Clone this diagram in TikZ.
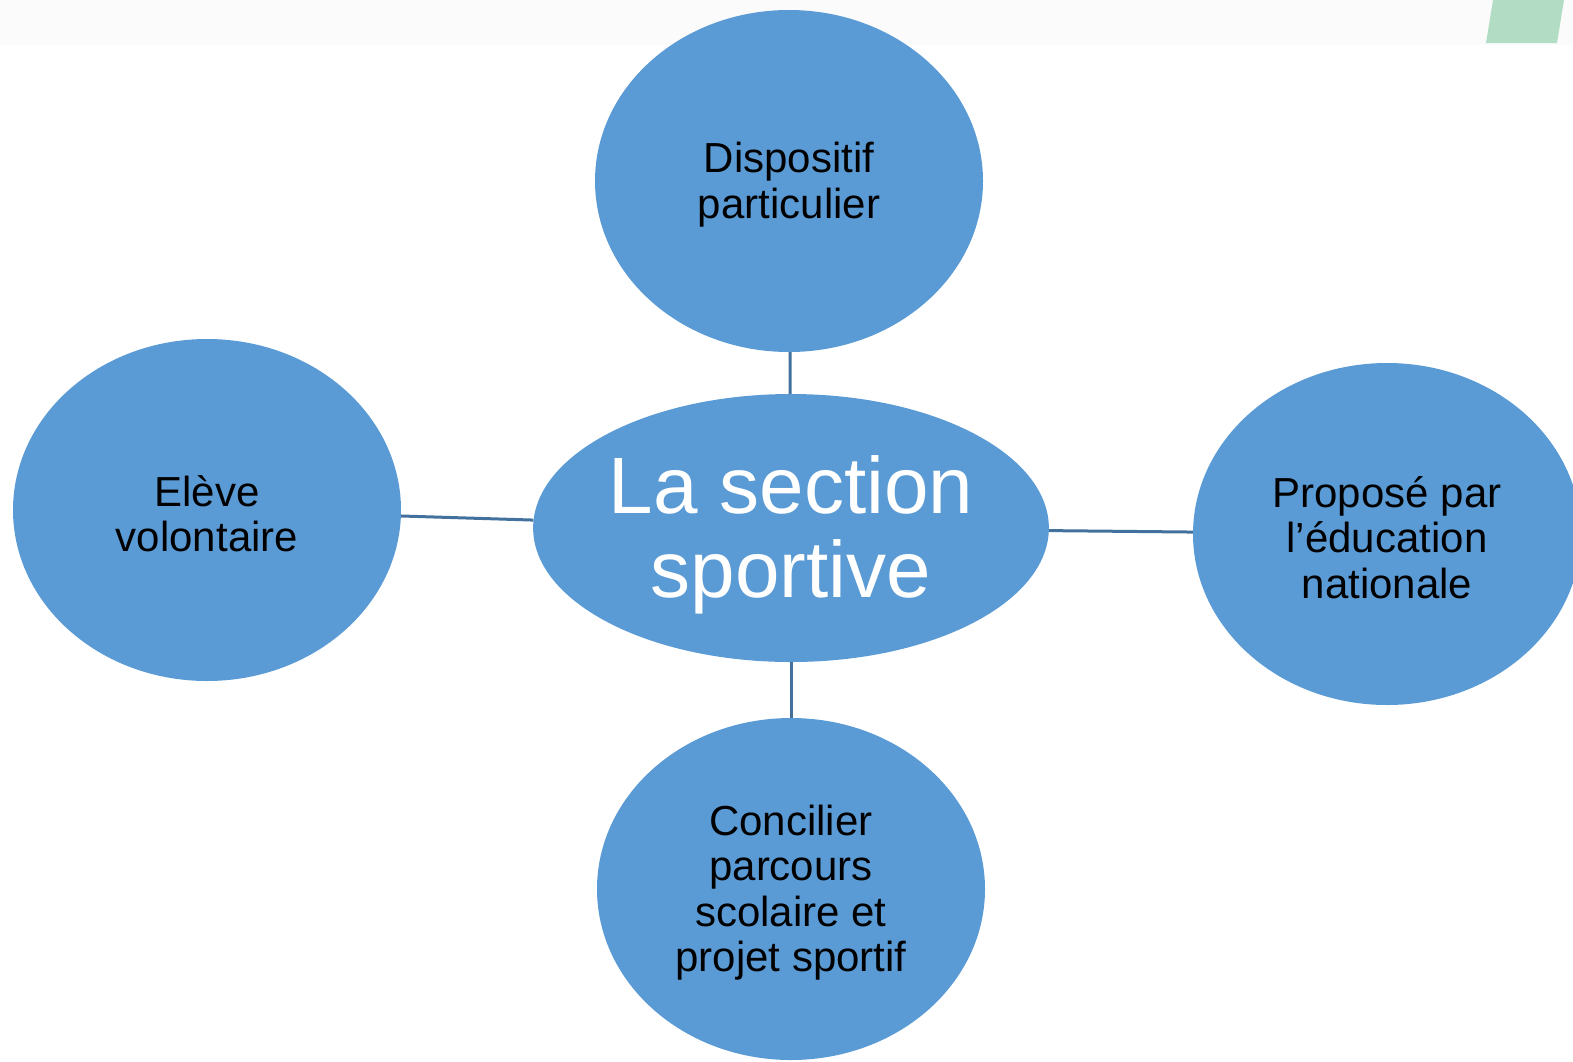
\documentclass[tikz,border=0pt]{standalone}
\usepackage{fontspec}
\setmainfont{Liberation Sans}
\usetikzlibrary{shapes.geometric}
\definecolor{bubble}{HTML}{5B9BD5}
\definecolor{linkblue}{HTML}{41719C}
\definecolor{strip}{HTML}{FBFBFB}
\definecolor{tab}{HTML}{B3DCC5}
% strut for the first line: full ascent of the font
\newcommand{\linebox}{\rule[-0.212em]{0pt}{1.117em}}
\begin{document}
\begin{tikzpicture}[x=1pt, y=-1pt,
    every node/.style={ellipse, fill=bubble, inner sep=0pt, align=center},
    side/.style={minimum width=388pt, minimum height=342pt,
                 font=\fontsize{42}{45.5}\selectfont},
    hub/.style={minimum width=510pt, minimum height=268pt, text=white,
                font=\fontsize{80}{84}\selectfont},
    spoke/.style={draw=linkblue, line width=3pt}]

\useasboundingbox (0,0) rectangle (1573,1061);
\clip (0,0) rectangle (1573,1061);
\fill[strip] (0,0) rectangle (1573,45);
\fill[tab] (1493,0) -- (1564,0) -- (1557,43) -- (1486,43) -- cycle;

\node[hub] (hub) at (791,528) {\linebox La section\\sportive};
\node[side] (top) at (789,181) {\linebox Dispositif\\particulier};
\node[side] (left) at (207,510) {\linebox Elève\\volontaire};
\node[side] (right) at (1387,534) {\linebox Proposé par\\l’éducation\\nationale};
\node[side] (bottom) at (791,889) {\linebox Concilier\\parcours\\scolaire et\\projet sportif};

\draw[spoke] (top) -- (hub);
\draw[spoke] (left) -- (hub);
\draw[spoke] (hub) -- (right);
\draw[spoke] (hub) -- (bottom);

\end{tikzpicture}
\end{document}
